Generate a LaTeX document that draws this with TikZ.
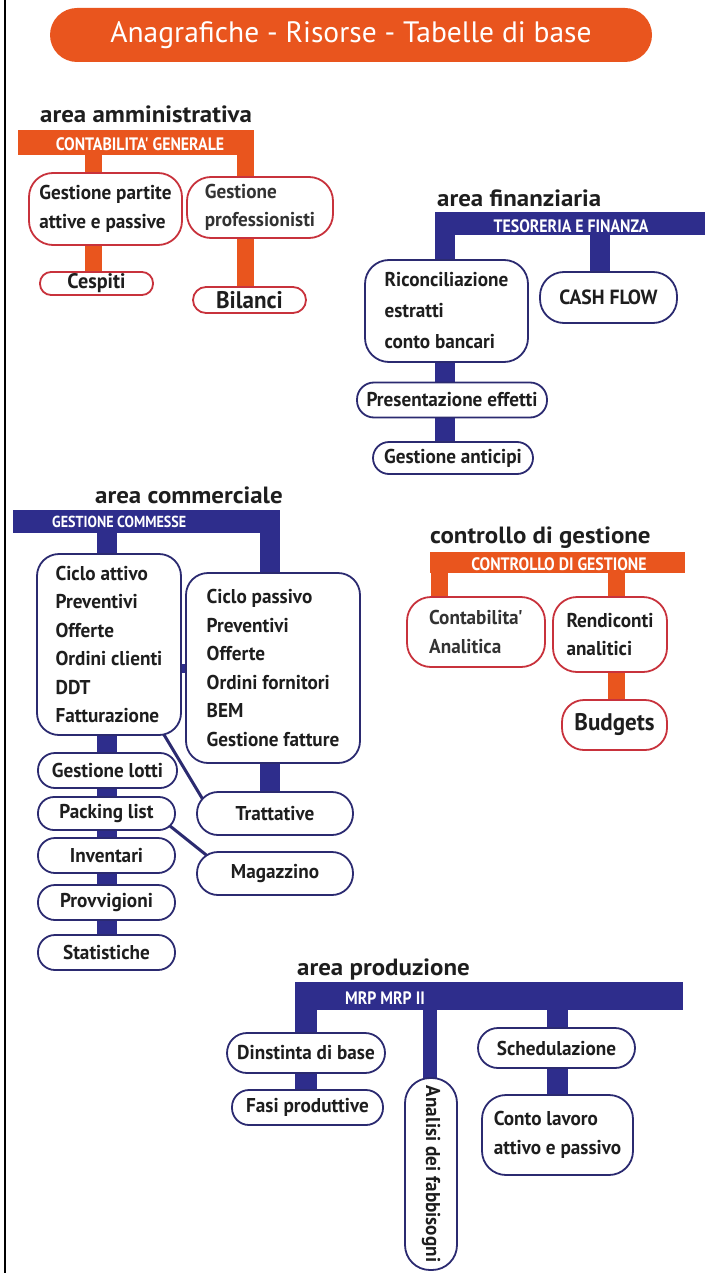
\documentclass[tikz,border=0pt]{standalone}
\usepackage{graphicx}
\usepackage{fontspec}
\setmainfont{PT Sans}
\newfontfamily\nodefont[FakeStretch=0.96]{PT Sans}
\newfontfamily\barfont[FakeStretch=0.88]{PT Sans}
\newfontfamily\labfont[FakeStretch=1.06]{PT Sans}
\usetikzlibrary{calc,backgrounds}
\definecolor{orng}{HTML}{E9551E}
\definecolor{navy}{HTML}{2E2D8C}
\definecolor{redline}{HTML}{C8323C}
\definecolor{navyline}{HTML}{2B2A70}
\definecolor{ink}{HTML}{1E1E1E}
\definecolor{inkmid}{HTML}{333333}
\newcommand{\nfont}{\nodefont\bfseries\fontsize{20}{28.5}\selectfont}
\newcommand{\bigfnt}{\nodefont\bfseries\fontsize{24}{26}\selectfont}
\tikzset{
  titlepill/.style={fill=orng, rounded corners=27pt, minimum width=602pt, minimum height=54pt,
    text=white, inner sep=0pt, font=\fontsize{29.5}{32}\selectfont},
  arealab/.style={anchor=base west, inner sep=0pt, text=ink, font=\labfont\bfseries\fontsize{23.5}{26}\selectfont},
  bartext/.style={inner sep=0pt, text=white, font=\barfont\bfseries\fontsize{18}{20}\selectfont},
  obar/.style={fill=orng, inner sep=0pt},
  nbar/.style={fill=navy, inner sep=0pt},
  rbox/.style={draw=redline, line width=1.8pt, fill=white, rounded corners=#1, inner sep=0pt,
    text=ink, align=left, font=\nfont},
  rbox/.default=20pt,
  nbox/.style={draw=navyline, line width=1.8pt, fill=white, rounded corners=#1, inner sep=0pt,
    text=ink, align=left, font=\nfont},
  nbox/.default=20pt,
  oline/.style={draw=orng, line width=17pt},
  nline/.style={draw=navy, line width=20pt},
  thinlink/.style={draw=navyline, line width=3pt},
}
\begin{document}
\begin{tikzpicture}[x=1pt,y=-1pt]
\useasboundingbox (0,0) rectangle (705,1273);
\draw[line width=2.5pt, black] (5,0) -- (5,1273);

% title
\node[titlepill] (title) at (351,35) {Anagrafiche - Risorse - Tabelle di base};

% area amministrativa
\node[arealab] (la) at (40,123) {area amministrativa};
\node[obar, minimum width=236pt, minimum height=25pt] (cg) at (136,142.5) {};
\node[bartext] (cgt) at (140,144) {CONTABILITA' GENERALE};
\node[rbox=24pt, minimum width=153pt, minimum height=72pt] (gp) at (105.5,209) {Gestione partite\\attive e passive};
\node[rbox=24pt, minimum width=146pt, minimum height=61pt, text=inkmid] (gpro) at (260,207.5) {Gestione\\professionisti};
\node[rbox=11pt, minimum width=113pt, minimum height=23pt, font=\nodefont\bfseries\fontsize{21}{24}\selectfont] (ces) at (96.5,283.5) {Cespiti};
\node[rbox=13pt, minimum width=113pt, minimum height=26pt, font=\bigfnt] (bil) at (249.5,300) {Bilanci};

% area finanziaria
\node[arealab] (lf) at (437,207) {area finanziaria};
\node[nbar, minimum width=270pt, minimum height=23pt] (tf) at (570,223.5) {};
\node[bartext] (tft) at (571,226) {TESORERIA E FINANZA};
\node[nbox=24pt, minimum width=163pt, minimum height=102pt, font=\nodefont\bfseries\fontsize{20}{31}\selectfont] (ric) at (446.5,311) {Riconciliazione\\estratti\\conto bancari};
\node[nbox=24pt, minimum width=137pt, minimum height=51pt, font=\nodefont\bfseries\fontsize{20.5}{24}\selectfont] (cash) at (608.5,297.5) {CASH FLOW};
\node[nbox=17pt, minimum width=190pt, minimum height=35pt] (pres) at (452,400) {Presentazione effetti};
\node[nbox=16pt, minimum width=160pt, minimum height=32pt] (ant) at (453,458) {Gestione anticipi};

% area commerciale
\node[arealab] (lc) at (95,503) {area commerciale};
\node[nbar, minimum width=267pt, minimum height=23pt] (gc) at (146.5,521.5) {};
\node[bartext, font=\barfont\bfseries\fontsize{16}{20}\selectfont, anchor=west] (gct) at (52,522) {GESTIONE COMMESSE};
\node[nbox=22pt, minimum width=144pt, minimum height=181pt] (ca) at (109,644.5) {Ciclo attivo\\Preventivi\\Offerte\\Ordini clienti\\DDT\\Fatturazione};
\node[nbox=22pt, minimum width=174pt, minimum height=190pt] (cp) at (273,668) {Ciclo passivo\\Preventivi\\Offerte\\Ordini fornitori\\BEM\\Gestione fatture};
\node[nbox=17pt, minimum width=139pt, minimum height=35pt] (lotti) at (107.5,770.5) {Gestione lotti};
\node[nbox=16pt, minimum width=137pt, minimum height=33pt] (pack) at (106.5,813.5) {Packing list};
\node[nbox=17pt, minimum width=137pt, minimum height=35pt] (inv) at (106.5,855.5) {Inventari};
\node[nbox=17pt, minimum width=137pt, minimum height=35pt] (prov) at (106.5,902.5) {Provvigioni};
\node[nbox=17pt, minimum width=137pt, minimum height=35pt] (stat) at (106.5,952.5) {Statistiche};
\node[nbox=21pt, minimum width=156pt, minimum height=43pt] (tratt) at (275,813.5) {Trattative};
\node[nbox=21pt, minimum width=156pt, minimum height=43pt] (mag) at (275,873.5) {Magazzino};

% controllo di gestione
\node[arealab] (lg) at (430,543) {controllo di gestione};
\node[obar, minimum width=255pt, minimum height=21pt] (cdg) at (557.5,562.5) {};
\node[bartext] (cdgt) at (559,564) {CONTROLLO DI GESTIONE};
\node[rbox=24pt, minimum width=138pt, minimum height=70pt, text=inkmid] (conta) at (476,632) {Contabilita'\\Analitica};
\node[rbox=24pt, minimum width=114pt, minimum height=75pt] (rend) at (610,634.5) {Rendiconti\\analitici};
\node[rbox=22pt, minimum width=105pt, minimum height=50pt, font=\bigfnt] (budg) at (614.5,725) {Budgets};

% area produzione
\node[arealab] (lp) at (297,975) {area produzione};
\node[nbar, minimum width=388pt, minimum height=28pt] (mrp) at (489,996) {};
\node[bartext] (mrpt) at (385,998) {MRP MRP II};
\node[nbox=20pt, minimum width=158pt, minimum height=40pt] (dist) at (306,1053) {Dinstinta di base};
\node[nbox=17pt, minimum width=151pt, minimum height=35pt] (fasi) at (307.5,1107.5) {Fasi produttive};
\node[nbox=25pt, minimum width=52pt, minimum height=192pt] (anal) at (431,1174) {\rotatebox{-90}{Analisi dei fabbisogni}};
\node[nbox=20pt, minimum width=157pt, minimum height=40pt] (sched) at (556.5,1048) {Schedulazione};
\node[nbox=24pt, minimum width=151pt, minimum height=80pt] (conto) at (557.5,1135) {Conto lavoro\\attivo e passivo};

\begin{scope}[on background layer]
  % amministrativa
  \draw[oline] ([xshift=-43pt]cg.center) -- ([xshift=-12.5pt]gp.center);
  \draw[oline] ([xshift=-12.5pt]gp.center) -- ([xshift=-3.5pt]ces.center);
  \draw[oline] ([xshift=109pt]cg.center) -- ([xshift=-15pt]gpro.center);
  \draw[oline] ([xshift=-15pt]gpro.center) -- ([xshift=-4.5pt]bil.center);
  % finanziaria
  \draw[nline] ([xshift=-125pt]tf.center) -- ([xshift=-1.5pt]ric.center);
  \draw[nline] ([xshift=-1.5pt]ric.center) -- ([xshift=-7pt]pres.center);
  \draw[nline] ([xshift=-7pt]pres.center) -- ([xshift=-8pt]ant.center);
  \draw[nline] ([xshift=30pt]tf.center) -- ([xshift=-8.5pt]cash.center);
  % commerciale
  \draw[nline] ([xshift=-39.5pt]gc.center) -- ([xshift=-2pt]ca.center);
  \draw[nline] ([xshift=-2pt]ca.center) -- ([xshift=-0.5pt]lotti.center);
  \draw[nline] ([xshift=-0.5pt]lotti.center) -- ([xshift=0.5pt]pack.center);
  \draw[nline] ([xshift=0.5pt]pack.center) -- ([xshift=0.5pt]inv.center);
  \draw[nline] ([xshift=0.5pt]inv.center) -- ([xshift=0.5pt]prov.center);
  \draw[nline] ([xshift=0.5pt]prov.center) -- ([xshift=0.5pt]stat.center);
  \draw[nline] ([xshift=123.5pt]gc.center) -- ([xshift=-3pt]cp.center);
  \draw[nline] ([xshift=-3pt]cp.center) -- ([xshift=-5pt]tratt.center);
  \draw[nline, line width=9pt] (cp.center) -- (cp.center -| ca.center);
  \draw[thinlink] ([xshift=42pt,yshift=-68.5pt]ca.center) -- ([xshift=-61pt,yshift=-4.5pt]tratt.center);
  \draw[thinlink] ([xshift=43.5pt,yshift=3.5pt]pack.center) -- ([xshift=-50pt,yshift=3.5pt]mag.center);
  % controllo
  \draw[oline] ([xshift=-118.5pt]cdg.center) -- ([xshift=-37pt]conta.center);
  \draw[oline] ([xshift=58.5pt]cdg.center) -- ([xshift=6pt]rend.center);
  \draw[oline] ([xshift=6pt]rend.center) -- ([xshift=1.5pt]budg.center);
  % produzione
  \draw[nline, line width=22pt] ([xshift=-183pt]mrp.center) -- (dist.center);
  \draw[nline, line width=22pt] (dist.center) -- ([xshift=-1.5pt]fasi.center);
  \draw[nline, line width=14pt] ([xshift=-59pt]mrp.center) -- ([xshift=-1pt]anal.center);
  \draw[nline, line width=21pt] ([xshift=68pt]mrp.center) -- ([xshift=0.5pt]sched.center);
  \draw[nline, line width=21pt] ([xshift=0.5pt]sched.center) -- ([xshift=-0.5pt]conto.center);
\end{scope}
\end{tikzpicture}
\end{document}
